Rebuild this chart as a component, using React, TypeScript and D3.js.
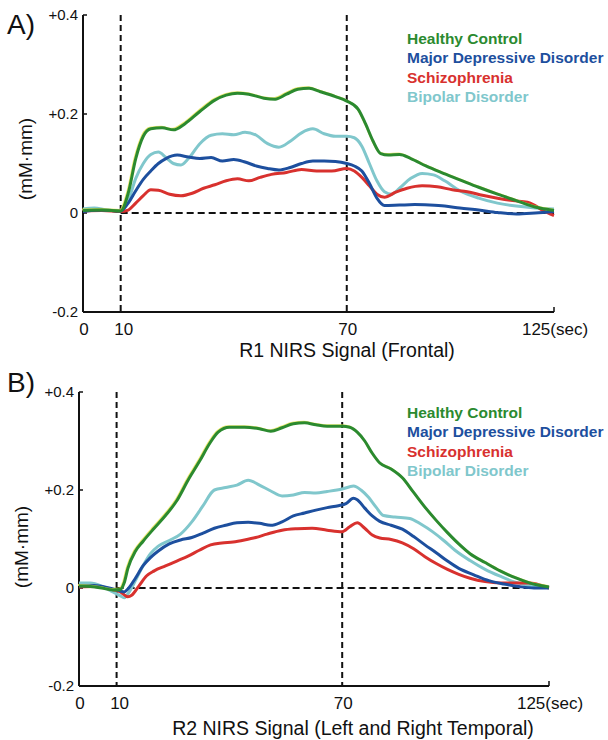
import * as React from 'react';
import {useEffect, useRef} from 'react';
import * as d3 from 'd3';

const W = 608;
const H = 740;

const seriesNames = ['Healthy Control', 'Major Depressive Disorder', 'Schizophrenia', 'Bipolar Disorder'];
const seriesColors = ['#2b8a2f', '#1d4f9e', '#d8312e', '#80c7cc'];

const xTicks = [0, 10, 70, 125];
const xTickLabels = ['0', '10', '70', '125(sec)'];
const yTicks = [-0.2, 0, 0.2, 0.4];
const yTickLabels = ['-0.2', '0', '+0.2', '+0.4'];
const markers = [10, 70];

// panel A, frontal
const frontalHealthy: [number, number][] = [
  [0, 0.005], [5, 0.006], [10, 0.004], [12, 0.04], [14, 0.11], [16, 0.155], [18, 0.17], [21, 0.172],
  [24, 0.168], [27, 0.18], [31, 0.205], [35, 0.228], [38, 0.238], [41, 0.242], [44, 0.24], [48, 0.232],
  [51, 0.23], [54, 0.24], [57, 0.25], [60, 0.252], [63, 0.245], [67, 0.235], [70, 0.226], [73, 0.21],
  [75, 0.18], [77, 0.145], [79, 0.12], [81, 0.117], [84, 0.118], [87, 0.11], [91, 0.095], [95, 0.082],
  [100, 0.067], [105, 0.052], [110, 0.038], [115, 0.025], [120, 0.012], [125, 0.005]
];
const frontalMDD: [number, number][] = [
  [0, 0.003], [5, 0.006], [10, 0.004], [12, 0.02], [14, 0.045], [16, 0.068], [18, 0.085], [20, 0.1],
  [22, 0.11], [25, 0.117], [28, 0.113], [31, 0.11], [34, 0.112], [37, 0.105], [40, 0.108], [43, 0.103],
  [46, 0.095], [49, 0.09], [52, 0.087], [55, 0.092], [58, 0.1], [61, 0.105], [64, 0.105], [67, 0.104],
  [70, 0.1], [72, 0.095], [74, 0.085], [76, 0.06], [78, 0.03], [80, 0.015], [84, 0.016], [88, 0.017],
  [92, 0.016], [96, 0.014], [100, 0.01], [105, 0.006], [110, 0.001], [115, -0.002], [120, 0.0], [125, 0.003]
];
const frontalSCZ: [number, number][] = [
  [0, 0.004], [5, 0.005], [10, 0.003], [12, 0.006], [14, 0.02], [16, 0.035], [18, 0.047], [20, 0.046],
  [23, 0.038], [26, 0.035], [29, 0.04], [32, 0.05], [35, 0.057], [38, 0.065], [41, 0.069], [44, 0.065],
  [47, 0.072], [50, 0.078], [54, 0.082], [58, 0.088], [62, 0.085], [66, 0.085], [70, 0.09], [72, 0.085],
  [74, 0.072], [76, 0.055], [78, 0.038], [80, 0.032], [83, 0.042], [86, 0.05], [90, 0.055], [94, 0.053],
  [98, 0.047], [102, 0.043], [106, 0.036], [110, 0.03], [114, 0.025], [118, 0.022], [120, 0.015],
  [122, 0.005], [125, -0.005]
];
const frontalBP: [number, number][] = [
  [0, 0.008], [3, 0.01], [6, 0.007], [10, 0.004], [12, 0.025], [14, 0.07], [16, 0.1], [18, 0.118],
  [20, 0.123], [22, 0.112], [24, 0.1], [26, 0.097], [28, 0.11], [31, 0.14], [34, 0.157], [37, 0.16],
  [40, 0.158], [43, 0.163], [46, 0.157], [49, 0.14], [52, 0.133], [55, 0.145], [58, 0.162], [61, 0.17],
  [64, 0.16], [67, 0.155], [70, 0.155], [72, 0.152], [74, 0.135], [76, 0.1], [78, 0.065], [80, 0.043],
  [82, 0.038], [84, 0.05], [87, 0.07], [90, 0.08], [93, 0.077], [96, 0.065], [100, 0.045], [105, 0.03],
  [110, 0.02], [115, 0.014], [120, 0.01], [125, 0.008]
];

// panel B, left and right temporal
const temporalHealthy: [number, number][] = [
  [0, 0.004], [3, 0.003], [6, 0.0], [9, -0.004], [11, -0.003], [12, 0.01], [13, 0.04], [15, 0.075],
  [17, 0.095], [20, 0.122], [23, 0.148], [26, 0.178], [29, 0.22], [32, 0.258], [35, 0.298], [37, 0.318],
  [40, 0.328], [44, 0.328], [48, 0.325], [51, 0.32], [54, 0.327], [57, 0.335], [60, 0.337], [63, 0.333],
  [66, 0.33], [70, 0.33], [72, 0.328], [74, 0.318], [76, 0.3], [78, 0.275], [80, 0.255], [83, 0.243],
  [86, 0.225], [89, 0.195], [92, 0.165], [95, 0.138], [98, 0.113], [101, 0.09], [104, 0.07], [108, 0.052],
  [112, 0.035], [116, 0.021], [120, 0.01], [125, 0.002]
];
const temporalMDD: [number, number][] = [
  [0, 0.004], [4, 0.005], [8, 0.0], [11, -0.006], [12, -0.008], [13, -0.002], [15, 0.02], [17, 0.045],
  [19, 0.062], [21, 0.075], [24, 0.09], [27, 0.098], [30, 0.103], [33, 0.112], [36, 0.122], [39, 0.128],
  [42, 0.133], [45, 0.134], [48, 0.132], [51, 0.128], [54, 0.135], [57, 0.147], [60, 0.153], [63, 0.159],
  [66, 0.164], [69, 0.168], [71, 0.172], [73, 0.183], [74, 0.18], [76, 0.163], [78, 0.147], [80, 0.136],
  [83, 0.128], [86, 0.12], [89, 0.105], [92, 0.088], [95, 0.072], [98, 0.055], [101, 0.04], [105, 0.027],
  [109, 0.015], [113, 0.008], [117, 0.003], [121, 0.0], [125, 0.0]
];
const temporalSCZ: [number, number][] = [
  [0, 0.002], [4, 0.003], [8, -0.002], [11, -0.008], [13, -0.018], [14, -0.015], [16, 0.005], [18, 0.025],
  [20, 0.035], [23, 0.045], [26, 0.055], [29, 0.065], [32, 0.077], [35, 0.088], [38, 0.092], [41, 0.094],
  [44, 0.098], [47, 0.103], [50, 0.11], [54, 0.118], [58, 0.121], [62, 0.122], [66, 0.118], [70, 0.115],
  [72, 0.125], [74, 0.133], [76, 0.122], [78, 0.108], [80, 0.102], [83, 0.099], [86, 0.092], [89, 0.08],
  [92, 0.064], [95, 0.05], [98, 0.038], [101, 0.028], [104, 0.02], [108, 0.013], [112, 0.01], [116, 0.01],
  [120, 0.01], [123, 0.005], [125, 0.0]
];
const temporalBP: [number, number][] = [
  [0, 0.01], [3, 0.01], [6, 0.004], [9, -0.008], [11, -0.016], [12, -0.02], [13, -0.012], [15, 0.015],
  [17, 0.045], [19, 0.07], [21, 0.085], [24, 0.097], [27, 0.11], [30, 0.135], [33, 0.168], [36, 0.2],
  [39, 0.205], [42, 0.21], [45, 0.22], [48, 0.21], [51, 0.198], [54, 0.188], [57, 0.19], [60, 0.195],
  [63, 0.194], [66, 0.197], [70, 0.202], [73, 0.208], [75, 0.2], [77, 0.185], [79, 0.165], [81, 0.148],
  [84, 0.145], [88, 0.142], [91, 0.13], [94, 0.115], [97, 0.097], [100, 0.077], [104, 0.056], [108, 0.038],
  [112, 0.024], [116, 0.012], [120, 0.005], [125, 0.002]
];

const panels = [
  {
    tag: 'A)', title: 'R1 NIRS Signal (Frontal)',
    series: [frontalHealthy, frontalMDD, frontalSCZ, frontalBP],
    x: [83, 554], y: [312, 15], tagY: 34, titleX: 347, titleY: 357, legendY: 44,
    ylabX: 32, ylabY: 159
  },
  {
    tag: 'B)', title: 'R2 NIRS Signal (Left and Right Temporal)',
    series: [temporalHealthy, temporalMDD, temporalSCZ, temporalBP],
    x: [79, 549], y: [686, 392], tagY: 392, titleX: 353, titleY: 735, legendY: 418,
    ylabX: 28, ylabY: 547
  }
];

const font = '"Liberation Sans", Arial, sans-serif';

export default function App() {
  const ref = useRef<SVGSVGElement>(null);

  useEffect(() => {
    const svg = d3.select(ref.current);
    svg.selectAll('*').remove();
    svg.append('rect').attr('width', W).attr('height', H).attr('fill', '#fff');

    panels.forEach(p => {
      const x = d3.scaleLinear().domain([0, 125]).range(p.x);
      const y = d3.scaleLinear().domain([-0.2, 0.4]).range(p.y);
      const g = svg.append('g').style('font-family', font);

      // axes
      g.append('line')
        .attr('x1', x(0)).attr('x2', x(0)).attr('y1', y(0.4)).attr('y2', y(-0.2))
        .attr('stroke', '#111').attr('stroke-width', 2);
      g.append('line')
        .attr('x1', x(0)).attr('x2', x(125)).attr('y1', y(-0.2)).attr('y2', y(-0.2))
        .attr('stroke', '#111').attr('stroke-width', 2.2);
      g.selectAll('.ytick').data(yTicks).join('line')
        .attr('x1', x(0)).attr('x2', x(0) + 4).attr('y1', d => y(d)).attr('y2', d => y(d))
        .attr('stroke', '#111').attr('stroke-width', 1.5);
      g.append('line')
        .attr('x1', x(125)).attr('x2', x(125)).attr('y1', y(-0.2)).attr('y2', y(-0.2) - 5)
        .attr('stroke', '#111').attr('stroke-width', 1.5);

      g.selectAll('.ylab').data(yTicks).join('text')
        .attr('x', x(0) - 5).attr('y', d => y(d) + 5)
        .attr('text-anchor', 'end').attr('font-size', 15).attr('fill', '#111')
        .text((d, i) => yTickLabels[i]);
      g.selectAll('.xlab').data(xTicks).join('text')
        .attr('x', (d, i) => x(d) + (i === 1 ? 3 : 1)).attr('y', y(-0.2) + 23)
        .attr('text-anchor', 'middle').attr('font-size', 17).attr('fill', '#111')
        .text((d, i) => xTickLabels[i]);

      // dashed markers
      g.selectAll('.vdash').data(markers).join('line')
        .attr('x1', d => x(d)).attr('x2', d => x(d)).attr('y1', y(0.4)).attr('y2', y(-0.2))
        .attr('stroke', '#111').attr('stroke-width', 2).attr('stroke-dasharray', '6,4');
      g.append('line')
        .attr('x1', x(10)).attr('x2', x(125)).attr('y1', y(0)).attr('y2', y(0))
        .attr('stroke', '#111').attr('stroke-width', 2).attr('stroke-dasharray', '7,4');

      const line = d3.line<[number, number]>()
        .x(d => x(d[0])).y(d => y(d[1]))
        .curve(d3.curveMonotoneX);

      // draw back to front: bipolar, schizophrenia, MDD, healthy
      [3, 2, 1, 0].forEach(i => {
        if (i === 0) {
          // faint yellow fringe along the healthy control trace
          g.append('path')
            .datum(p.series[i])
            .attr('d', line)
            .attr('transform', 'translate(-1,-1)')
            .attr('fill', 'none')
            .attr('stroke', '#e6e34a')
            .attr('stroke-width', 2)
            .attr('opacity', 0.8);
        }
        g.append('path')
          .datum(p.series[i])
          .attr('d', line)
          .attr('fill', 'none')
          .attr('stroke', seriesColors[i])
          .attr('stroke-width', 3)
          .attr('stroke-linejoin', 'round');
      });

      // legend
      g.selectAll('.leg').data(seriesNames).join('text')
        .attr('x', 407).attr('y', (d, i) => p.legendY + i * 19.3)
        .attr('font-size', 15.5).attr('font-weight', 'bold')
        .attr('fill', (d, i) => seriesColors[i])
        .text(d => d);

      g.append('text')
        .attr('x', 7).attr('y', p.tagY)
        .attr('font-size', 28).attr('fill', '#111')
        .text(p.tag);

      g.append('text')
        .attr('transform', `translate(${p.ylabX},${p.ylabY}) rotate(-90)`)
        .attr('text-anchor', 'middle').attr('font-size', 19).attr('fill', '#111')
        .text('(mM\u00b7mm)');

      g.append('text')
        .attr('x', p.titleX).attr('y', p.titleY)
        .attr('text-anchor', 'middle').attr('font-size', 19.5).attr('fill', '#111')
        .text(p.title);
    });
  }, []);

  return (
    <svg ref={ref} width={W} height={H}
      style={{position: 'absolute', left: 0, top: 0, display: 'block'}} />
  );
}
